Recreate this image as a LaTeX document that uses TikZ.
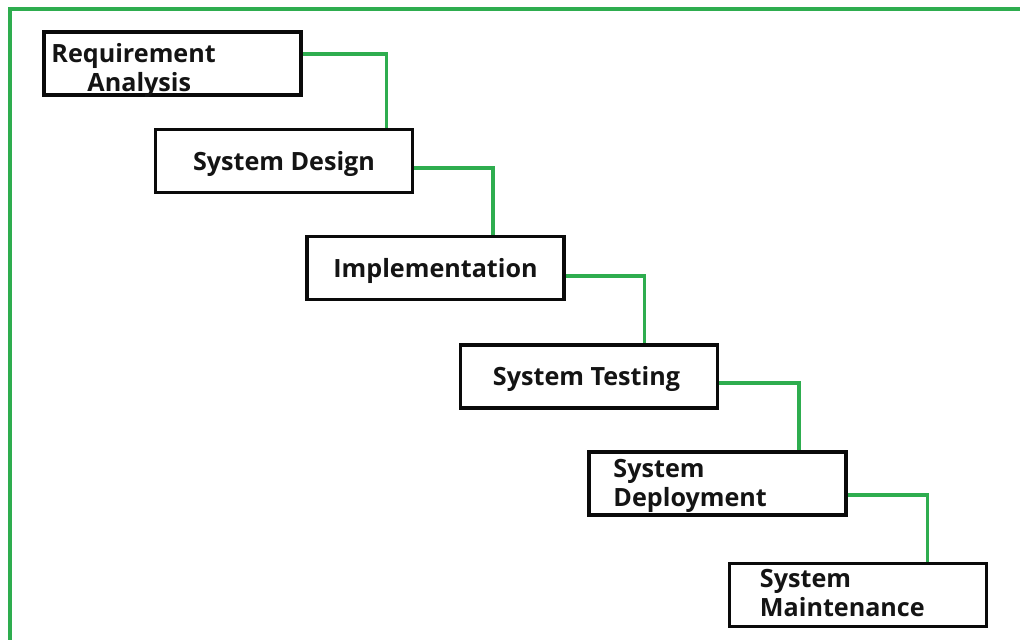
\documentclass[tikz,border=0pt]{standalone}
\usepackage{fontspec}
\setmainfont{Open Sans}
\usepackage{xcolor}
\definecolor{stepgreen}{HTML}{2EAD4F}
\definecolor{boxblack}{HTML}{0A0A0A}

\begin{document}
\begin{tikzpicture}[
    phase/.style={draw=boxblack, line width=0.075cm, fill=white,
                  minimum width=5.14cm, minimum height=1.26cm},
    label/.style={font=\fontsize{14.3}{16.5}\selectfont\bfseries, color=black!92,
                  inner sep=0pt, align=left},
    link/.style={draw=stepgreen, line width=0.07cm}
]
    \useasboundingbox (0,0) rectangle (20.4,12.8);

    % Frame
    \draw[stepgreen, line width=0.08cm] (0.2,0) -- (0.2,12.62) -- (20.4,12.62);

    % Requirement box
    \node[phase] (req) at (3.45, 11.53) {};
    \node[label, anchor=west] at ([xshift=0.18cm, yshift=-0.13cm]req.west)
        {Requirement\\\hspace*{0.72cm}Analysis};

    % Design box
    \node[phase] (des) at (5.68, 9.58) {};
    \node[label] at ([yshift=-0.05cm]des.center) {System Design};

    % Implementation box
    \node[phase] (imp) at (8.71, 7.44) {};
    \node[label] at ([yshift=-0.05cm]imp.center) {Implementation};

    % Testing box
    \node[phase] (tst) at (11.78, 5.27) {};
    \node[label] at ([xshift=-0.05cm, yshift=-0.05cm]tst.center) {System Testing};

    % Deployment box
    \node[phase] (dep) at (14.35, 3.13) {};
    \node[label, anchor=west] at ([xshift=0.52cm, yshift=-0.05cm]dep.west)
        {System\\Deployment};

    % Maintenance box
    \node[phase] (mnt) at (17.16, 0.90) {};
    \node[label, anchor=west] at ([xshift=0.64cm, yshift=0.03cm]mnt.west)
        {System\\Maintenance};

    % Green steps
    \draw[link] ([yshift=0.19cm]req.east) -| ([xshift=-0.56cm]des.north east);
    \draw[link] ([yshift=-0.14cm]des.east) -| ([xshift=-1.46cm]imp.north east);
    \draw[link] ([yshift=-0.16cm]imp.east) -| ([xshift=-1.5cm]tst.north east);
    \draw[link] ([yshift=-0.13cm]tst.east) -| ([xshift=-0.98cm]dep.north east);
    \draw[link] ([yshift=-0.23cm]dep.east) -| ([xshift=-1.22cm]mnt.north east);
\end{tikzpicture}
\end{document}
